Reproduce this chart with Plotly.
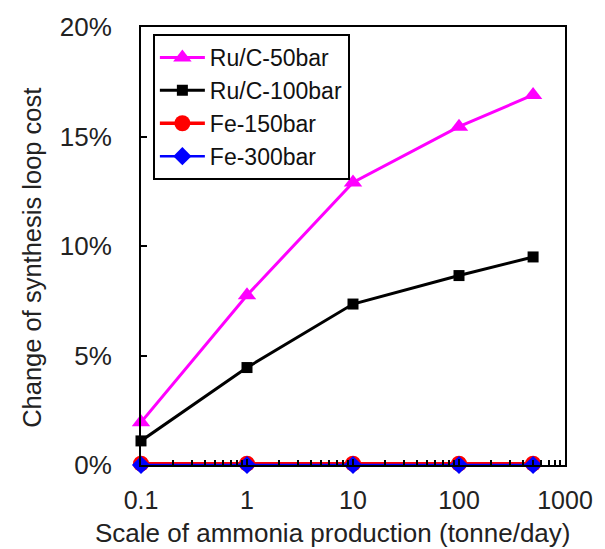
import plotly.graph_objects as go

scale = [0.1, 1, 10, 100, 500]
ru_50 = [1.95, 7.75, 12.9, 15.45, 16.9]
ru_100 = [1.1, 4.45, 7.35, 8.65, 9.5]
fe_150 = [0.06, 0.06, 0.06, 0.06, 0.06]
fe_300 = [0.0, 0.0, 0.0, 0.0, 0.0]

x_tickvals = [0.1, 1, 10, 100, 1000]
x_ticktext = ["0.1", "1", "10", "100", "1000"]
y_tickvals = [0, 5, 10, 15, 20]
y_ticktext = ["0%", "5%", "10%", "15%", "20%"]
x_title = "Scale of ammonia production (tonne/day)"
y_title = "Change of synthesis loop cost"

fig = go.Figure()
fig.add_trace(go.Scatter(x=scale, y=ru_50, name="Ru/C-50bar", mode="lines+markers",
                         line=dict(color="#FF00FF", width=3), cliponaxis=False,
                         marker=dict(symbol="triangle-up", size=16, color="#FF00FF")))
fig.add_trace(go.Scatter(x=scale, y=ru_100, name="Ru/C-100bar", mode="lines+markers",
                         line=dict(color="black", width=3), cliponaxis=False,
                         marker=dict(symbol="square", size=11, color="black")))
fig.add_trace(go.Scatter(x=scale, y=fe_150, name="Fe-150bar", mode="lines+markers",
                         line=dict(color="#FF0000", width=3.5), cliponaxis=False,
                         marker=dict(symbol="circle", size=16, color="#FF0000")))
fig.add_trace(go.Scatter(x=scale, y=fe_300, name="Fe-300bar", mode="lines+markers",
                         line=dict(color="#0000FF", width=2.5), cliponaxis=False,
                         marker=dict(symbol="diamond", size=14, color="#0000FF")))

fig.update_layout(
    width=605, height=549,
    margin=dict(l=141, r=30, t=24, b=84),
    paper_bgcolor="white", plot_bgcolor="white",
    font=dict(family="Liberation Sans, Arial, sans-serif", size=20, color="#222"),
    showlegend=True,
    legend=dict(x=0.028, y=0.984, xanchor="left", yanchor="top",
                bordercolor="black", borderwidth=2, bgcolor="white",
                font=dict(size=23, color="#111"), itemwidth=45,
                tracegroupgap=0),
    annotations=[
        dict(text=x_title, xref="paper", yref="paper", x=0.452, y=-0.155,
             xanchor="center", yanchor="middle", showarrow=False,
             font=dict(size=26, color="#222")),
        dict(text=y_title, xref="paper", yref="paper", x=-0.256, y=0.474,
             xanchor="center", yanchor="middle", showarrow=False, textangle=-90,
             font=dict(size=25.5, color="#222")),
    ],
)
fig.update_xaxes(type="log", range=[-1, 3.0], tickmode="array",
                 tickvals=x_tickvals, ticktext=x_ticktext,
                 ticks="inside", ticklen=6, tickwidth=1.5, tickcolor="black",
                 showline=True, linecolor="black", linewidth=2, mirror=True,
                 showgrid=False, zeroline=False, ticklabelstandoff=12,
                 minor=dict(ticks="inside", ticklen=5, tickwidth=1.5, tickcolor="black",
                            dtick="D1", showgrid=False),
                 tickfont=dict(size=25))
fig.update_yaxes(range=[0, 20], tickmode="array", tickvals=y_tickvals,
                 ticktext=y_ticktext,
                 ticks="inside", ticklen=6, tickwidth=1.5, tickcolor="black",
                 showline=True, linecolor="black", linewidth=2, mirror=True,
                 showgrid=False, zeroline=False, ticklabelstandoff=22,
                 tickfont=dict(size=26))

fig.write_html("out.html", config={"displayModeBar": False},
               post_script="document.body.style.margin='0';document.body.style.overflow='hidden';")
